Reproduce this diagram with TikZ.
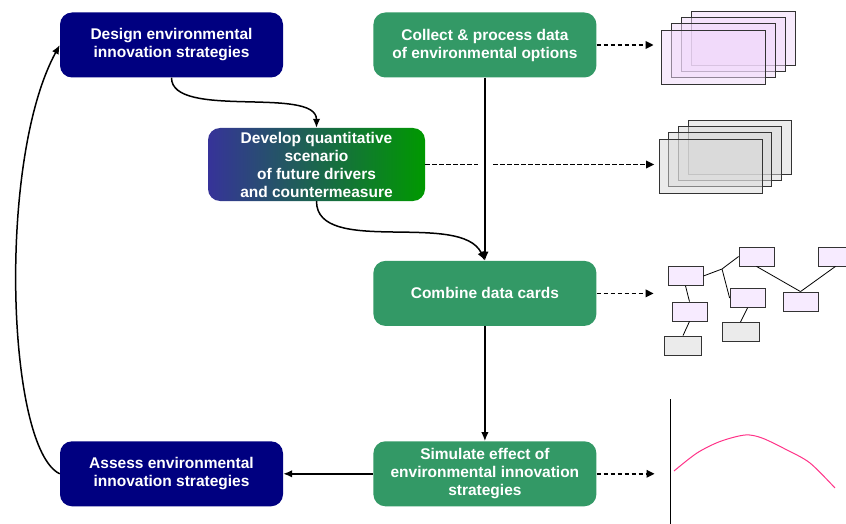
\documentclass[tikz,border=0pt]{standalone}
\usepackage{fontspec}
\setmainfont{Liberation Sans}
\usetikzlibrary{arrows.meta}
\usetikzlibrary{positioning}
\definecolor{navy}{HTML}{000080}
\definecolor{seagreen}{HTML}{339966}
\definecolor{indigo}{HTML}{363399}
\definecolor{leafgreen}{HTML}{009900}
\definecolor{lilac}{HTML}{F0D8FA}
\definecolor{pale}{HTML}{F7EBFF}
\definecolor{ash}{HTML}{D8D8D8}
\definecolor{rose}{HTML}{FF3388}

\begin{document}
\begin{tikzpicture}[x=1pt, y=-1pt,
    stage/.style={rounded corners=12pt, minimum width=223pt, minimum height=65pt, inner sep=1pt,
      text=white, align=center, font=\bfseries\fontsize{15.5}{18}\selectfont},
    strategy/.style={stage, fill=navy},
    process/.style={stage, fill=seagreen},
    flow/.style={line width=1.5pt, -{Latex[length=9pt,width=7.5pt]}},
    feed/.style={line width=1.7pt, dash pattern=on 4.5pt off 2.5pt},
    tip/.style={-{Triangle[length=8pt,width=7.5pt]}},
    card/.style={draw=black!80, line width=0.8pt, fill opacity=0.5},
    tbox/.style={draw=black!80, line width=0.8pt, minimum width=35pt, minimum height=19pt, inner sep=0pt},
    branch/.style={line width=0.8pt},
  ]
  \useasboundingbox (0,0) rectangle (846,524);

  \node[strategy] (design) at (171.5,45) {Design environmental\\innovation strategies};
  \node[process, right=90pt of design] (collect) {Collect \& process data\\of environmental options};
  \node[stage, minimum width=217pt, minimum height=73pt, left color=indigo, right color=leafgreen]
    (develop) at (316.5,164.5) {Develop quantitative\\scenario\\of future drivers\\and countermeasure};
  \node[process, below=183pt of collect] (combine) {Combine data cards};
  \node[process, below=115pt of combine] (simulate) {Simulate effect of\\environmental innovation\\strategies};
  \node[strategy, left=90pt of simulate] (assess) {Assess environmental\\innovation strategies};

  \draw[flow] (design.south) to[out=-90, in=90, looseness=0.7] (develop.north);
  \draw[flow] (develop.south) to[out=-90, in=115, looseness=0.8] (combine.north);
  \draw[flow] (collect) -- (combine);
  \draw[flow] (combine) -- (simulate);
  \draw[flow] (simulate) -- (assess);
  \draw[flow] (assess.west) .. controls +(-53,-25) and +(-63,115) .. (design.west);

  \coordinate (optionsin) at ([xshift=57pt]collect.east);
  \coordinate (jumpl) at ([xshift=53pt]develop.east);
  \coordinate (jumpr) at ([xshift=68pt]develop.east);
  \coordinate (scenarioin) at ([xshift=229pt]develop.east);
  \coordinate (cardsin) at ([xshift=57pt]combine.east);
  \coordinate (effectin) at ([xshift=58pt]simulate.east);

  \draw[feed, tip] (collect.east) -- (optionsin);
  \draw[feed] (develop.east) -- (jumpl);
  \draw[feed, tip] (jumpr) -- (scenarioin);
  \draw[feed, tip] (combine.east) -- (cardsin);
  \draw[feed, tip] (simulate.east) -- (effectin);

  \foreach \i in {3,2,1,0}
    \draw[card, fill=lilac] ({661+10*\i},{30-6.3*\i}) rectangle +(104,54);
  \foreach \i in {3,2,1,0}
    \draw[card, fill=ash] ({659+9.7*\i},{139-6.3*\i}) rectangle +(103,54);

  \node[tbox, fill=pale] (ta) at (685.5,276) {};
  \node[tbox, fill=pale] (tb) at (756.5,256.5) {};
  \node[tbox, fill=pale] (tc) at (835.5,256.5) {};
  \node[tbox, fill=pale] (td) at (689.5,311.5) {};
  \node[tbox, fill=pale] (te) at (747.5,298) {};
  \node[tbox, fill=pale] (tf) at (800.5,301.5) {};
  \node[tbox, fill=black!8, minimum width=37pt] (tg) at (683,345.5) {};
  \node[tbox, fill=black!8, minimum width=37pt] (th) at (740.5,332) {};
  \coordinate (tj) at (722,269);
  \draw[branch] (ta.east) -- (tj) -- (tb.west);
  \draw[branch] (tj) -- (te.west);
  \draw[branch] (ta.south) -- (td.north);
  \draw[branch] (td.south) -- (tg.north);
  \draw[branch] (te.south) -- (th.north);
  \draw[branch] (tb.south) -- (tf.north);
  \draw[branch] (tc.south) -- (tf.north);

  \draw[line width=1pt] (670,399) -- (670,524);
  \draw[rose, line width=1pt] plot[smooth] coordinates {(674,471) (697,453) (720,441.5) (745,435) (762,438) (787,450) (810,463) (835,488)};
\end{tikzpicture}
\end{document}
